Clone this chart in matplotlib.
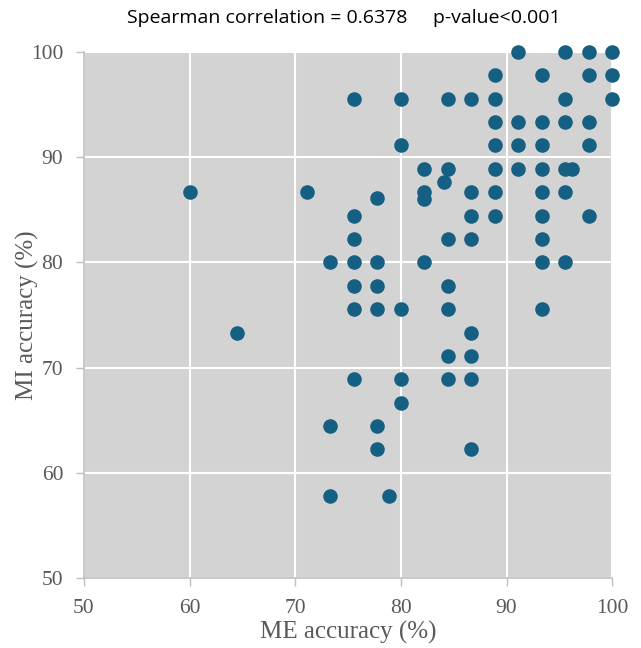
import matplotlib
matplotlib.use("Agg")
import matplotlib.pyplot as plt

# ME accuracy (x) vs MI accuracy (y)
me_acc = [
    91.11, 95.56, 97.78, 100,
    88.89, 93.33, 97.78, 100,
    75.56, 80, 84.44, 86.67, 88.89, 95.56, 100,
    88.89, 91.11, 93.33, 95.56, 97.78,
    80, 88.89, 91.11, 93.33, 97.78,
    82.22, 84.44, 88.89, 91.11, 93.33, 95.56, 96.2,
    84.1,
    60, 71.11, 82.22, 86.67, 88.89, 93.33, 95.56,
    82.22,
    77.78,
    75.56, 86.67, 88.89, 93.33, 97.78,
    75.56, 84.44, 86.67, 93.33,
    73.33, 75.56, 77.78, 82.22, 93.33, 95.56,
    75.56, 77.78, 84.44,
    75.56, 77.78, 80, 84.44, 93.33,
    64.44, 86.67,
    84.44, 86.67,
    75.56, 80, 84.44, 86.67,
    80,
    73.33, 77.78,
    77.78, 86.67,
    73.33, 78.9,
]
mi_acc = (
    [100] * 4
    + [97.78] * 4
    + [95.56] * 7
    + [93.33] * 5
    + [91.11] * 5
    + [88.89] * 7
    + [87.6]
    + [86.67] * 7
    + [86.0]
    + [86.1]
    + [84.44] * 5
    + [82.22] * 4
    + [80] * 6
    + [77.78] * 3
    + [75.56] * 5
    + [73.33] * 2
    + [71.11] * 2
    + [68.89] * 4
    + [66.67]
    + [64.44] * 2
    + [62.22] * 2
    + [57.78] * 2
)

title_text = "Spearman correlation = 0.6378     p-value<0.001"
ticks = [50, 60, 70, 80, 90, 100]

fig = plt.figure(figsize=(6.41, 6.48), dpi=100)
ax = fig.add_axes([0.131, 0.108, 0.824, 0.812])
ax.set_facecolor("#d3d3d3")

ax.scatter(me_acc, mi_acc, s=110, color="#155f82", zorder=3, clip_on=False,
           linewidths=0)

ax.set_xlim(50, 100)
ax.set_ylim(50, 100)
ax.set_xticks(ticks)
ax.set_yticks(ticks)
ax.grid(True, color="white", linewidth=1.5, zorder=1)
ax.set_axisbelow(True)

for side in ["top", "right"]:
    ax.spines[side].set_visible(False)
for side in ["bottom", "left"]:
    ax.spines[side].set_color("#bfbfbf")
    ax.spines[side].set_linewidth(1.2)

serif = ["Liberation Serif", "DejaVu Serif"]
ax.tick_params(axis="both", direction="out", length=6, width=1,
               color="#bfbfbf", labelcolor="#595959", labelsize=15.5, pad=9)
for lbl in ax.get_xticklabels() + ax.get_yticklabels():
    lbl.set_family(serif)

ax.set_xlabel("ME accuracy (%)", fontsize=18, color="#595959",
              family=serif, labelpad=2)
ax.set_ylabel("MI accuracy (%)", fontsize=18, color="#595959",
              family=serif, labelpad=-6)

fig.text(0.537, 0.972, title_text, ha="center", va="center",
         fontsize=14, family=["Open Sans", "DejaVu Sans"], color="black")

fig.savefig("out.png", dpi=100)
